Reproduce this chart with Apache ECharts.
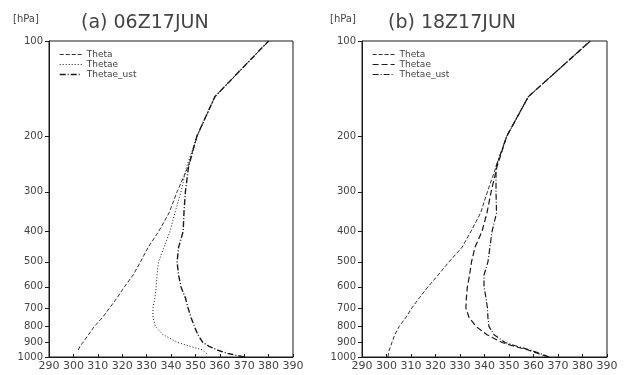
<!DOCTYPE html>
<html>
<head>
<meta charset="utf-8">
<script src="https://cdn.jsdelivr.net/npm/echarts@6/dist/echarts.min.js"></script>
<style>
  html, body { margin: 0; padding: 0; background: #fff; }
  #chart { width: 626px; height: 375px; }
</style>
</head>
<body>
<div id="chart"></div>
<script>
// pressure levels (hPa), shared by all profiles
const levels = [1000, 975, 950, 925, 900, 850, 800, 750, 700, 650, 600, 550, 500, 450, 400, 350, 300, 250, 200, 150, 100]
const pressureTicks = [100, 200, 300, 400, 500, 600, 700, 800, 900, 1000]
const seriesNames = ['Theta', 'Thetae', 'Thetae_ust']

// (a) 06Z17JUN  — values in K, null = below ground
const thetaA     = [null, null, 302.0, 302.7, 303.9, 306.2, 308.6, 311.9, 314.8, 317.9, 320.9, 324.5, 327.5, 330.6, 335.0, 339.2, 342.5, 347.0, 350.7, 358.0, 380.0]
const thetaeA    = [null, 354.6, 353.0, 347.8, 342.9, 336.7, 333.6, 332.6, 332.6, 333.4, 333.9, 334.3, 334.9, 337.1, 339.6, 341.6, 344.1, 346.4, 350.7, 358.0, 380.0]
const thetaeUstA = [370.0, 363.4, 358.9, 355.6, 353.1, 351.0, 349.6, 348.2, 347.0, 345.9, 344.1, 343.1, 342.5, 343.1, 345.0, 345.3, 345.9, 347.2, 350.6, 358.0, 380.0]

// (b) 18Z17JUN
const thetaB     = [300.6, 300.8, 301.1, 301.7, 302.2, 303.4, 305.2, 307.9, 310.3, 313.4, 316.9, 321.1, 325.5, 330.8, 334.5, 338.4, 341.2, 344.7, 349.1, 357.9, 383.2]
const thetaeB    = [366.0, 361.9, 357.8, 352.1, 347.2, 341.0, 336.5, 333.7, 332.4, 332.6, 333.0, 333.9, 334.7, 336.1, 339.0, 341.0, 342.7, 345.1, 349.1, 357.9, 383.2]
const thetaeUstB = [366.4, 362.7, 358.6, 353.3, 348.4, 343.9, 341.8, 341.4, 341.2, 340.6, 339.8, 339.8, 341.4, 342.2, 343.1, 344.9, 344.7, 344.7, 349.1, 357.9, 383.2]

const xTicksMin = 290, xTicksMax = 390

const ink = '#1a1a1a'
const styles = {
  a: [
    { type: [4, 2], width: 0.9 },
    { type: [1, 2], width: 1 },
    { type: [6, 2, 1, 2], width: 1.4 },
  ],
  b: [
    { type: [4, 2], width: 0.9 },
    { type: [6, 3], width: 1.2 },
    { type: [6, 2, 1, 2], width: 1.2 },
  ],
}

const toPairs = (vals) => vals.map((v, i) => [v, levels[i]]).filter((d) => d[0] != null)

const chart = echarts.init(document.getElementById('chart'), null, { renderer: 'canvas' })

const axisFont = 'DejaVu Sans'

const makeX = (gridIndex) => ({
  type: 'value', gridIndex, min: xTicksMin, max: xTicksMax, interval: 10,
  axisLine: { show: true, onZero: false, lineStyle: { color: ink, width: 1 } },
  axisTick: { show: true, inside: true, length: 3, lineStyle: { color: ink } },
  axisLabel: { color: '#444', fontSize: 11, fontFamily: axisFont, margin: 4 },
  splitLine: { show: false },
})

const makeY = (gridIndex) => ({
  type: 'log', logBase: 10, gridIndex, min: 100, max: 1000, inverse: true,
  axisLine: { show: true, onZero: false, lineStyle: { color: ink, width: 1 } },
  axisTick: { show: true, inside: false, length: 4, customValues: pressureTicks, lineStyle: { color: ink } },
  axisLabel: {
    color: '#444', fontSize: 10, fontFamily: axisFont, margin: 6, customValues: pressureTicks,
    formatter: (v) => String(Math.round(v)),
  },
  splitLine: { show: false },
})

const makeSeries = (vals, i, panel) => ({
  type: 'line', name: seriesNames[i], xAxisIndex: panel === 'a' ? 0 : 1, yAxisIndex: panel === 'a' ? 0 : 1,
  data: toPairs(vals), symbol: 'none', smooth: false, animation: false,
  color: ink,
  lineStyle: Object.assign({ color: ink }, styles[panel][i]),
})

const makeLegend = (left, panel) => ({
  orient: 'vertical', left, top: 45, itemWidth: 22, itemHeight: 7, itemGap: 1,
  selectedMode: false,
  textStyle: { fontSize: 9, color: '#444', fontFamily: axisFont },
  data: seriesNames.map((n, i) => ({
    name: n,
    itemStyle: { opacity: 0 },
    lineStyle: Object.assign({ color: ink }, styles[panel][i]),
  })),
})

const titleText = (left, text, size) => ({
  text, left, top: 9,
  textStyle: { fontSize: size, fontWeight: 'normal', color: '#444', fontFamily: axisFont },
})

chart.setOption({
  backgroundColor: '#fff',
  animation: false,
  title: [
    titleText(8, '[hPa]', 10),
    titleText(76, '(a) 06Z17JUN', 19),
    titleText(325, '[hPa]', 10),
    titleText(383, '(b) 18Z17JUN', 19),
  ],
  legend: [makeLegend(54, 'a'), makeLegend(367, 'b')],
  grid: [
    { left: 49, right: 333, top: 41, bottom: 18, show: true, borderColor: ink, borderWidth: 1, backgroundColor: 'transparent' },
    { left: 362, right: 19, top: 41, bottom: 18, show: true, borderColor: ink, borderWidth: 1, backgroundColor: 'transparent' },
  ],
  xAxis: [makeX(0), makeX(1)],
  yAxis: [makeY(0), makeY(1)],
  series: [
    makeSeries(thetaA, 0, 'a'),
    makeSeries(thetaeA, 1, 'a'),
    makeSeries(thetaeUstA, 2, 'a'),
    makeSeries(thetaB, 0, 'b'),
    makeSeries(thetaeB, 1, 'b'),
    makeSeries(thetaeUstB, 2, 'b'),
  ],
})
</script>
</body>
</html>
